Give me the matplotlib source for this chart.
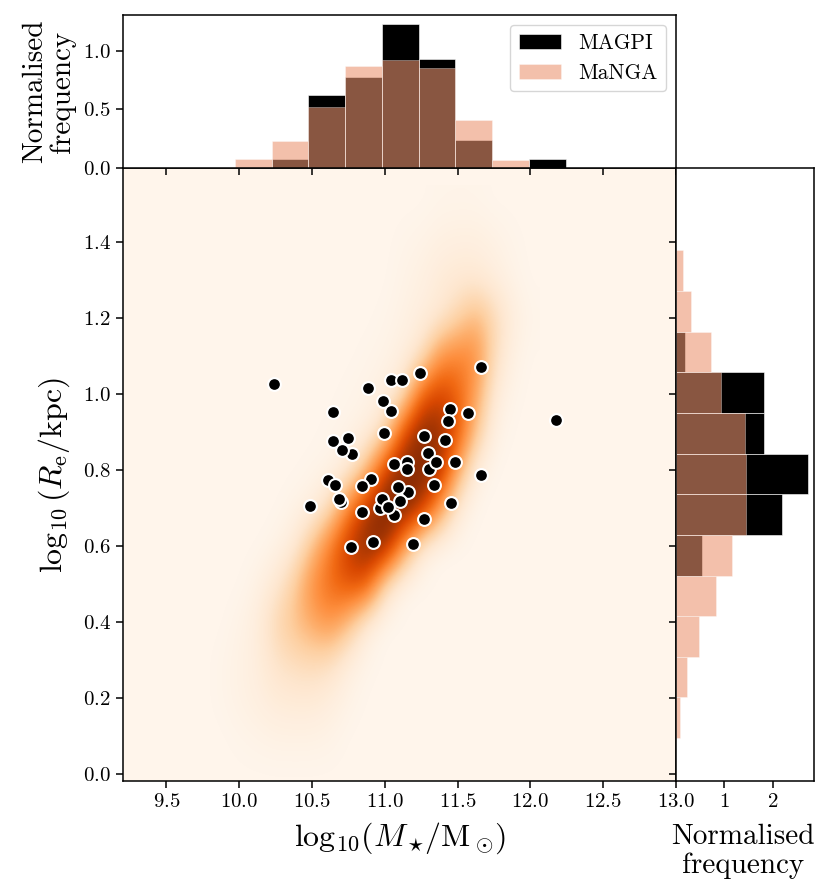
import numpy as np
import matplotlib
matplotlib.use("Agg")
import matplotlib.pyplot as plt

plt.rcParams['font.family'] = ['cmr10', 'DejaVu Serif']
plt.rcParams['mathtext.fontset'] = 'cm'
plt.rcParams['axes.formatter.use_mathtext'] = True
plt.rcParams['axes.unicode_minus'] = False

# MAGPI galaxies
magpi_mass = [10.241, 10.882, 11.042, 11.121, 11.244, 11.658, 10.987, 11.042, 10.643, 11.449,
              11.573, 11.433, 12.174, 10.992, 10.643, 10.744, 10.774, 10.707, 11.270, 11.412,
              11.297, 11.306, 11.350, 11.483, 11.063, 11.153, 11.150, 10.611, 10.661, 10.905,
              10.845, 11.660, 11.162, 11.093, 11.336, 10.700, 10.682, 11.104, 10.967, 10.980,
              11.061, 11.020, 10.843, 10.489, 11.453, 11.270, 10.916, 10.769, 11.192]
magpi_size = [1.027, 1.016, 1.038, 1.038, 1.056, 1.071, 0.982, 0.957, 0.953, 0.961,
              0.951, 0.930, 0.932, 0.899, 0.878, 0.884, 0.844, 0.854, 0.889, 0.879,
              0.846, 0.804, 0.823, 0.821, 0.816, 0.821, 0.803, 0.774, 0.760, 0.777,
              0.759, 0.788, 0.743, 0.757, 0.760, 0.716, 0.724, 0.720, 0.702, 0.725,
              0.682, 0.704, 0.691, 0.706, 0.714, 0.671, 0.610, 0.598, 0.606]

# top histogram
mass_edges = [9.969, 10.222, 10.474, 10.727, 10.979, 11.232, 11.484, 11.737, 11.989, 12.242]
magpi_mass_hist = [0.0, 0.08, 0.62, 0.78, 1.23, 0.93, 0.24, 0.0, 0.08]
manga_mass_hist = [0.08, 0.23, 0.52, 0.87, 0.92, 0.85, 0.41, 0.07, 0.0]

# right histogram, bottom to top
size_edges = [0.095, 0.202, 0.309, 0.416, 0.523, 0.630, 0.737, 0.844, 0.951, 1.058, 1.165, 1.272, 1.379]
magpi_size_hist = [0.0, 0.0, 0.0, 0.0, 0.54, 2.18, 2.72, 1.81, 1.81, 0.18, 0.0, 0.0]
manga_size_hist = [0.076, 0.227, 0.47, 0.82, 1.16, 1.45, 1.44, 1.43, 0.93, 0.73, 0.31, 0.145]

# MaNGA density, rows from size 0.0 up to 1.5
density_mass = [9.75, 9.875, 10.0, 10.125, 10.25, 10.375, 10.5, 10.625, 10.75, 10.875,
                11.0, 11.125, 11.25, 11.375, 11.5, 11.625, 11.75, 11.875, 12.0]
density_size = [0.0, 0.1, 0.2, 0.3, 0.4, 0.5, 0.6, 0.7, 0.8, 0.9, 1.0, 1.1, 1.2, 1.3, 1.4, 1.5]
density = [
    [0, 0, 0, 0, 0, 0, 0, 0, 0, 0, 0, 0, 0, 0, 0, 0, 0, 0, 0],
    [0, 0, .01, .02, .03, .03, .03, .02, 0, 0, 0, 0, 0, 0, 0, 0, 0, 0, 0],
    [0, .01, .03, .05, .08, .09, .09, .06, .02, 0, 0, 0, 0, 0, 0, 0, 0, 0, 0],
    [0, .01, .03, .06, .14, .18, .20, .17, .06, .01, 0, 0, 0, 0, 0, 0, 0, 0, 0],
    [0, 0, .02, .06, .20, .30, .40, .48, .32, .07, 0, 0, 0, 0, 0, 0, 0, 0, 0],
    [0, 0, 0, .03, .10, .25, .50, .62, .72, .70, .18, .01, 0, 0, 0, 0, 0, 0, 0],
    [0, 0, 0, 0, .02, .08, .30, .58, .82, .95, .95, .46, .08, 0, 0, 0, 0, 0, 0],
    [0, 0, 0, 0, 0, .02, .05, .18, .55, .85, 1.0, 1.0, .84, .44, .08, 0, 0, 0, 0],
    [0, 0, 0, 0, 0, 0, .01, .02, .08, .32, .78, .98, 1.0, .87, .38, .05, 0, 0, 0],
    [0, 0, 0, 0, 0, 0, 0, .01, .02, .05, .18, .72, .97, .92, .70, .28, .03, 0, 0],
    [0, 0, 0, 0, 0, 0, 0, 0, .01, .02, .05, .15, .65, .78, .65, .42, .08, .01, 0],
    [0, 0, 0, 0, 0, 0, 0, 0, 0, .01, .02, .05, .14, .47, .54, .50, .17, .03, 0],
    [0, 0, 0, 0, 0, 0, 0, 0, 0, 0, .01, .03, .06, .10, .22, .35, .20, .06, .01],
    [0, 0, 0, 0, 0, 0, 0, 0, 0, 0, 0, .02, .04, .08, .10, .10, .06, .02, 0],
    [0, 0, 0, 0, 0, 0, 0, 0, 0, 0, 0, .01, .02, .04, .05, .05, .03, .01, 0],
    [0, 0, 0, 0, 0, 0, 0, 0, 0, 0, 0, 0, 0, .01, .01, .01, 0, 0, 0],
]

manga_color = (0.92, 0.58, 0.44)
manga_alpha = 0.59
W, H = 830, 896

fig = plt.figure(figsize=(8.3, 8.96), dpi=100)
ax = fig.add_axes([122.8 / W, 1 - 781 / H, (676 - 122.8) / W, (781 - 168.3) / H])
ax_top = fig.add_axes([122.8 / W, 1 - 168.3 / H, (676 - 122.8) / W, (168.3 - 15) / H])
ax_right = fig.add_axes([676 / W, 1 - 781 / H, (814 - 676) / W, (781 - 168.3) / H])

cmap = plt.get_cmap('Oranges')
ax.set_facecolor(cmap(0.0))
dm = density_mass[1] - density_mass[0]
ds = density_size[1] - density_size[0]
ax.imshow(density, origin='lower', cmap=cmap, vmin=0, vmax=1, aspect='auto', interpolation='bicubic',
          extent=[density_mass[0] - dm / 2, density_mass[-1] + dm / 2,
                  density_size[0] - ds / 2, density_size[-1] + ds / 2])
ax.scatter(magpi_mass, magpi_size, s=85, c='k', edgecolors='white', linewidths=1.5, zorder=3)
ax.set_xlim(9.2, 13.0)
ax.set_ylim(-0.018, 1.595)
ax.set_xticks(np.arange(9.5, 13.5, 0.5))
ax.set_yticks(np.arange(0, 1.6, 0.2))
ax.set_xlabel(r'$\log_{10}\!(M_\star\!/{\rm M}_\odot\!)$', fontsize=23, labelpad=7)
ax.set_ylabel(r'$\log_{10}(R_{\rm e}/{\rm kpc})$', fontsize=23, labelpad=8)

m_left = np.array(mass_edges[:-1])
m_width = np.diff(mass_edges)
ax_top.bar(m_left, magpi_mass_hist, m_width, align='edge', color='k', edgecolor='white', linewidth=0.4, label='MAGPI')
ax_top.bar(m_left, manga_mass_hist, m_width, align='edge', color=manga_color, alpha=manga_alpha,
           edgecolor='white', linewidth=0.4, label='MaNGA')
ax_top.set_xlim(9.2, 13.0)
ax_top.set_ylim(0, 1.303)
ax_top.set_xticks(np.arange(9.5, 13.5, 0.5))
ax_top.set_yticks([0, 0.5, 1.0])
ax_top.tick_params(labelbottom=False)
ax_top.set_ylabel('Normalised\nfrequency', fontsize=21, linespacing=1.1, labelpad=5)
ax_top.legend(loc='upper right', fontsize=15.4, borderaxespad=0.45)

s_left = np.array(size_edges[:-1])
s_width = np.diff(size_edges)
ax_right.barh(s_left, magpi_size_hist, s_width, align='edge', color='k', edgecolor='white', linewidth=0.4)
ax_right.barh(s_left, manga_size_hist, s_width, align='edge', color=manga_color, alpha=manga_alpha,
              edgecolor='white', linewidth=0.4)
ax_right.set_xlim(0, 2.85)
ax_right.set_ylim(-0.018, 1.595)
ax_right.set_xticks([1, 2])
ax_right.set_yticks(np.arange(0, 1.6, 0.2))
ax_right.tick_params(labelleft=False)
ax_right.set_xlabel('Normalised\nfrequency', fontsize=21, linespacing=1.1, labelpad=8)
ax_right.xaxis.set_label_coords(0.485, -0.07)

for a in (ax, ax_top, ax_right):
    a.tick_params(labelsize=15, length=5, width=1.1)
    for sp in a.spines.values():
        sp.set_linewidth(1.1)

fig.savefig('out.png', dpi=100)
